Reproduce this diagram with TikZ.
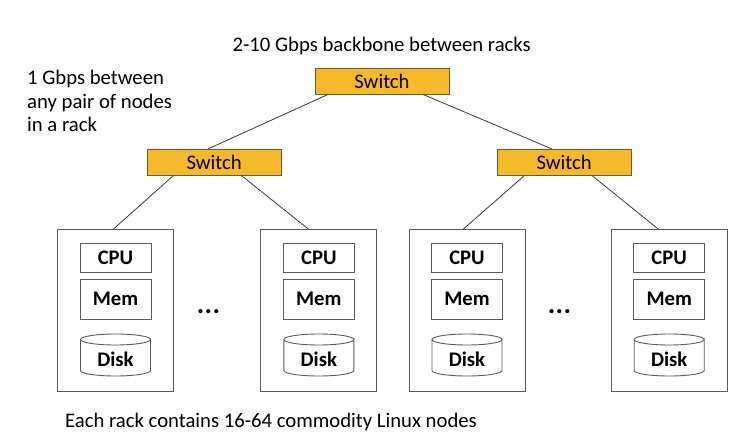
\documentclass[tikz,border=0pt]{standalone}
\usepackage{fontspec}
\setmainfont{Carlito}
\usetikzlibrary{calc}
\definecolor{swfill}{HTML}{F6B92C}
\definecolor{swdraw}{HTML}{6E5A2C}
\definecolor{boxdraw}{HTML}{5A5A5A}
\definecolor{linkc}{HTML}{3A3A3A}
\begin{document}
\begin{tikzpicture}[x=1pt,y=-1pt,
  switchbox/.style={draw=swdraw,fill=swfill,line width=0.9pt,minimum width=134pt,minimum height=26pt,inner sep=0pt,font=\fontsize{20.7}{24}\selectfont},
  rackbox/.style={draw=boxdraw,line width=0.9pt,minimum width=116pt,minimum height=162pt,inner sep=0pt},
  partbox/.style={draw=boxdraw,line width=0.9pt,minimum width=71pt,inner sep=0pt,font=\fontsize{20.7}{24}\selectfont\bfseries},
  link/.style={draw=linkc,line width=0.8pt},
  label/.style={inner sep=0pt,font=\fontsize{20.7}{23.5}\selectfont}
]
\useasboundingbox (0,0) rectangle (751,446);

% switches
\node[switchbox] (ts) at (382,81) {Switch};
\node[switchbox] (ls) at (214.2,162.3) {Switch};
\node[switchbox] (rs) at (564.2,162.3) {Switch};

% racks
\foreach \n/\x in {r1/115.5, r2/318.8, r3/467, r4/669.2}{
  \node[rackbox] (\n) at (\x,310.5) {};
  \node[partbox,minimum height=29.4pt] (\n cpu) at (\x,258) {CPU};
  \node[partbox,minimum height=40pt] (\n mem) at (\x,299.3) {Mem};
  \draw[draw=boxdraw,line width=0.9pt]
    ($(\x,339.5)+(-35,0)$) -- ($(\x,370.5)+(-35,0)$)
    arc[start angle=180,end angle=0,x radius=35,y radius=5.5]
    -- ($(\x,339.5)+(35,0)$)
    arc[start angle=0,end angle=360,x radius=35,y radius=5.5];
  \node[inner sep=0pt,anchor=base,font=\fontsize{20.7}{24}\selectfont\bfseries] (\n disk) at (\x,366.5) {Disk};
}

% dots
\node[inner sep=0pt,anchor=base,font=\fontsize{28}{30}\selectfont\bfseries] (d1) at (208.5,313) {.\kern0.5pt.\kern0.5pt.};
\node[inner sep=0pt,anchor=base,font=\fontsize{28}{30}\selectfont\bfseries] (d2) at (559.5,313) {.\kern0.5pt.\kern0.5pt.};

% links
\draw[link] ($(ts.south)+(-54,0)$) -- ($(ls.north)+(-6,0)$);
\draw[link] ($(ts.south)+(41,0)$) -- ($(rs.north)+(-12.5,0)$);
\draw[link] ($(ls.south)+(-41,0)$) -- ($(r1.north)+(-2,0)$);
\draw[link] ($(ls.south)+(27.5,0)$) -- ($(r2.north)+(-10.5,0)$);
\draw[link] ($(rs.south)+(-40,0)$) -- ($(r3.north)+(-3.7,0)$);
\draw[link] ($(rs.south)+(28,0)$) -- ($(r4.north)+(-11,0)$);

% texts
\node[label,anchor=base] (title) at (381.7,51.5) {2-10 Gbps backbone between racks};
\node[label,anchor=north west,align=left] (rack) at (27,70.3) {1 Gbps between\\any pair of nodes\\in a rack};
\node[label,anchor=base] (foot) at (271,427) {Each rack contains 16-64 commodity Linux nodes};
\end{tikzpicture}
\end{document}
